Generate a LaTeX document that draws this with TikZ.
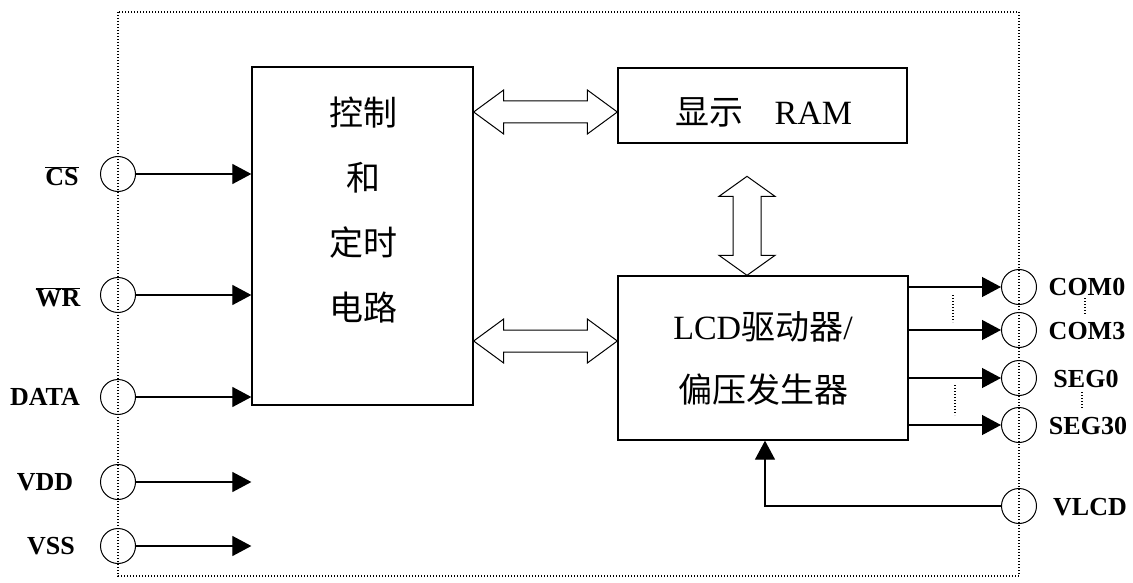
\documentclass[tikz,border=0pt]{standalone}
\usepackage{fontspec}
\setmainfont{Liberation Serif}
\newfontfamily\cjk{Noto Sans CJK SC}
\usetikzlibrary{arrows.meta,calc}
\begin{document}
\begin{tikzpicture}[x=1pt,y=-1pt,
  blk/.style={draw,line width=1.3pt,inner sep=0pt,rectangle},
  pin/.style={draw,circle,line width=1pt,minimum size=35pt,inner sep=0pt},
  lbl/.style={font=\fontsize{26}{28}\selectfont\bfseries,inner sep=0pt},
  arr/.style={line width=1.2pt,-{Triangle[length=19pt,width=20pt]}},
  dbl/.style={line width=1pt,line join=miter},
  frame/.style={line width=1.4pt,dash pattern=on 1pt off 2pt},
  txt/.style={font=\fontsize{34}{65}\selectfont,align=center,inner sep=0pt}]
\useasboundingbox (0,0) rectangle (1133,583);
% outer frame
\draw[frame] (118,12) rectangle (1019,576);
% blocks
\node[blk,minimum width=221pt,minimum height=338pt] (ctrl) at (362.5,236) {};
\node[txt] (ctrltxt) at (363,210) {\cjk 控制\\\cjk 和\\\cjk 定时\\\cjk 电路};
\node[blk,minimum width=289pt,minimum height=75pt] (ram) at (762.5,105.5) {};
\node[txt] (ramtxt) at (764,112) {{\cjk 显示}\hspace{0.9em}RAM};
\node[blk,minimum width=290pt,minimum height=164pt,font=\fontsize{34}{63}\selectfont,align=center] (lcd) at (763,358) {LCD{\cjk 驱动器}/\\\cjk 偏压发生器};
% left pins
\foreach \n/\y in {CS/174,WR/295,DATA/397,VDD/482,VSS/546}
  \node[pin] (c\n) at (118,\y) {};
\node[lbl] (lCS) at (62,176) {$\overline{\mbox{\bfseries CS}}$};
\node[lbl] (lWR) at (58,297) {$\overline{\mbox{\bfseries WR}}$};
\node[lbl] (lDATA) at (45,397) {DATA};
\node[lbl] (lVDD) at (45,482) {VDD};
\node[lbl] (lVSS) at (51,546) {VSS};
\foreach \n in {CS,WR,DATA,VDD,VSS}
  \draw[arr] (c\n.east) -- (c\n.east -| ctrl.west);
% right pins
\foreach \n/\y in {COM0/287,COM3/330,SEG0/378,SEG30/425,VLCD/506}
  \node[pin] (c\n) at (1019,\y) {};
\node[lbl] (lCOM0) at (1087,287) {COM0};
\node[lbl] (lCOM3) at (1087,331) {COM3};
\node[lbl] (lSEG0) at (1086,379) {SEG0};
\node[lbl] (lSEG30) at (1088,426) {SEG30};
\node[lbl] (lVLCD) at (1090,507) {VLCD};
\foreach \n in {COM0,COM3,SEG0,SEG30}
  \draw[arr] (c\n.west -| lcd.east) -- (c\n.west);
\draw[arr] (cVLCD.west) -| ($(lcd.south)+(2,0)$);
% small dotted marks
\draw[frame] (953,295) -- (953,322);
\draw[frame] (955,385) -- (955,415);
\draw[frame] (1085,298) -- (1085,315);
\draw[frame] (1082,392) -- (1082,410);
% double arrows
\coordinate (h1a) at ($(ctrl.east |- ram.center)+(0,6.5)$);
\coordinate (h1b) at ($(ram.west)+(0,6.5)$);
\coordinate (h2a) at ($(ctrl.east |- lcd.west)+(0,-17)$);
\coordinate (h2b) at ($(lcd.west)+(0,-17)$);
\coordinate (v1b) at ($(lcd.north)+(-16,0)$);
\coordinate (v1a) at ($(v1b)+(0,-99)$);
\foreach \a/\b in {h1a/h1b,h2a/h2b}
  \draw[dbl] let \p1=(\a), \p2=(\b) in
    (\p1) -- ({\x1+30pt},{\y1+22pt}) -- ({\x1+30pt},{\y1+11pt}) -- ({\x2-30pt},{\y1+11pt})
    -- ({\x2-30pt},{\y1+22pt}) -- (\p2) -- ({\x2-30pt},{\y1-22pt}) -- ({\x2-30pt},{\y1-11pt})
    -- ({\x1+30pt},{\y1-11pt}) -- ({\x1+30pt},{\y1-22pt}) -- cycle;
\draw[dbl] let \p1=(v1a), \p2=(v1b) in
    (\p1) -- ({\x1+28pt},{\y1-20pt}) -- ({\x1+14pt},{\y1-20pt}) -- ({\x1+14pt},{\y2+20pt})
    -- ({\x1+28pt},{\y2+20pt}) -- (\p2) -- ({\x1-28pt},{\y2+20pt}) -- ({\x1-14pt},{\y2+20pt})
    -- ({\x1-14pt},{\y1-20pt}) -- ({\x1-28pt},{\y1-20pt}) -- cycle;
\end{tikzpicture}
\end{document}
